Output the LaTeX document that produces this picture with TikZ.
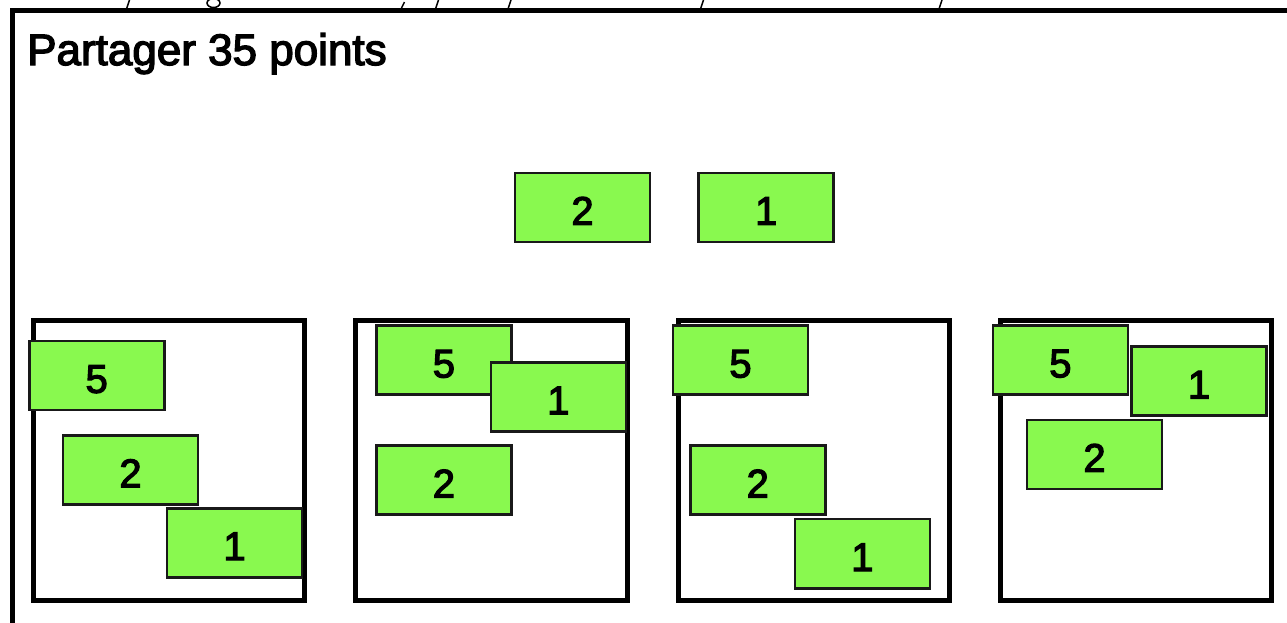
\documentclass[tikz,border=0pt]{standalone}
\usepackage{fontspec}
\setmainfont{Liberation Sans}
\newfontfamily\medfont[FakeBold=3]{Liberation Sans}
\definecolor{ptgreen}{RGB}{137,249,79}
\definecolor{ptedge}{RGB}{25,25,25}
\tikzset{
  pts/.style={draw=ptedge, fill=ptgreen, line width=2.7pt, minimum width=135pt,
    minimum height=69.2pt, inner sep=0pt, font=\medfont\fontsize{40pt}{48pt}\selectfont,
    text height=34.6pt, text depth=0pt},
  panel/.style={draw=black, line width=5pt},
  frame/.style={draw=black, line width=5pt},
  frag/.style={draw=black, line width=1.5pt},
}
\begin{document}
\begin{tikzpicture}[x=1pt,y=-1pt]
\path[use as bounding box] (0,0) rectangle (1287,622);
\clip (0,0) rectangle (1287,622);
% fragments of a cut-off line above
\draw[frag] (126.5,9) -- (129.5,0);
\draw[frag] (213.5,3) ellipse [x radius=6.5, y radius=4.5];
\draw[frag] (401.5,8) -- (404.5,2);
\draw[frag] (435.5,9) -- (438.5,0);
\draw[frag] (508,9) -- (511,0);
\draw[frag] (700.5,9) -- (703.5,0);
\draw[frag] (939,9) -- (942,0);
% outer frame (clipped)
\draw[frame] (12.5,700) -- (12.5,10.8) -- (1400,10.8);
\node[anchor=base west, inner sep=0pt, font=\medfont\fontsize{44pt}{50pt}\selectfont] (title) at (27,65) {Partager 35 points};
% panels
\draw[panel] (33.2,320) rectangle (304.6,600.5);
\draw[panel] (355.5,320) rectangle (627.5,600.5);
\draw[panel] (678.2,320) rectangle (949.8,600.5);
\draw[panel] (1000.2,320) rectangle (1271.8,600.5);
% top pieces
\node[pts] (t2) at (582.5,207.5) {2};
\node[pts] (t1) at (766.2,207.5) {1};
% panel 1
\node[pts] (a5) at (96.7,375.5) {5};
\node[pts] (a2) at (130.5,469.9) {2};
\node[pts] (a1) at (234.5,542.8) {1};
% panel 2
\node[pts] (b5) at (443.9,360.2) {5};
\node[pts] (b1) at (558.4,396.9) {1};
\node[pts] (b2) at (443.9,480.2) {2};
% panel 3
\node[pts] (c5) at (740.5,360.2) {5};
\node[pts] (c2) at (757.7,480.2) {2};
\node[pts] (c1) at (862.4,553.7) {1};
% panel 4
\node[pts] (d5) at (1060.4,360) {5};
\node[pts] (d1) at (1199,381.2) {1};
\node[pts] (d2) at (1094.5,454.5) {2};
\end{tikzpicture}
\end{document}
